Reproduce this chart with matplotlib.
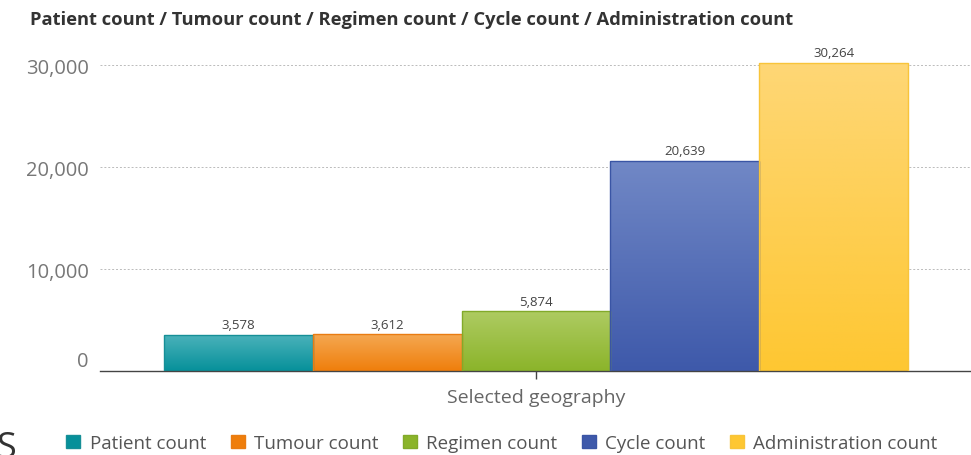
import numpy as np
import matplotlib
matplotlib.use("Agg")
from matplotlib import pyplot as plt
from matplotlib.colors import LinearSegmentedColormap
from matplotlib.patches import Patch

plt.rcParams['font.family'] = ['Open Sans', 'DejaVu Sans']

#! data
series = ['Patient count', 'Tumour count', 'Regimen count', 'Cycle count', 'Administration count']
values = [3578, 3612, 5874, 20639, 30264]
category = 'Selected geography'
yticks = [0, 10000, 20000, 30000]

# top colour, bottom colour, edge colour
top_col = ['#4cb3bb', '#f5a852', '#aecb62', '#7188c6', '#fed776']
bot_col = ['#06909a', '#ef7e0b', '#8bb42a', '#3e59aa', '#fec732']
edge_col = ['#168f97', '#e97c12', '#82aa2a', '#3a55a5', '#f8c43a']

fig = plt.figure(figsize=(9.71, 4.56), dpi=100)
ax = fig.add_axes([100/971, 0.184, 871/971, 0.704])

x = np.arange(len(values))
bars = ax.bar(x, values, width=1.0, color='none', edgecolor=edge_col, linewidth=1.0, zorder=3)

# gradient fill for each bar
for b, c1, c2 in zip(bars, top_col, bot_col):
    cmap = LinearSegmentedColormap.from_list('g', [c2, c1])
    x0, y0 = b.get_x(), b.get_y()
    w, h = b.get_width(), b.get_height()
    grad = np.linspace(0, 1, 256).reshape(-1, 1)
    im = ax.imshow(grad, cmap=cmap, origin='lower', aspect='auto',
                   extent=[x0, x0 + w, y0, y0 + h], zorder=2)
    im.set_clip_path(b)

for xi, v in zip(x, values):
    ax.text(xi, v + 350, f'{v:,}', ha='center', va='bottom', fontsize=9.5, color='#444444')

ax.set_xlim(-0.93, 4.923)
ax.set_ylim(0, 31500)

ax.set_yticks(yticks)
ax.set_yticklabels([f'{t:,}' for t in yticks])
ax.tick_params(axis='y', length=0, pad=8, labelsize=14.5, labelcolor='#777777')
for lbl in ax.get_yticklabels():
    if lbl.get_text() == '0':
        lbl.set_verticalalignment('bottom')

ax.set_xticks([2])
ax.set_xticklabels([category])
ax.tick_params(axis='x', length=6, width=1, color='#444444', pad=6, labelsize=14, labelcolor='#666666')

ax.grid(axis='y', color='#bbbbbb', linestyle=(0, (2, 2)), linewidth=0.7, zorder=0)
for s in ['top', 'right', 'left']:
    ax.spines[s].set_visible(False)
ax.spines['bottom'].set_color('#444444')
ax.spines['bottom'].set_linewidth(1.0)

fig.text(30/971, 1 - 20/456, ' / '.join(series), ha='left', va='center',
         fontsize=13.2, fontweight='bold', color='#333333')

handles = [Patch(facecolor=c, edgecolor=e, linewidth=1.0) for c, e in zip(bot_col, edge_col)]
fig.legend(handles, series, loc='center', bbox_to_anchor=(502/971, 1 - 444/456),
           ncol=5, frameon=False, fontsize=13.5, labelcolor='#555555',
           handlelength=0.75, handleheight=0.75, handletextpad=0.5, columnspacing=1.3)

fig.text(-0.004, -0.025, 'S', ha='left', va='bottom', fontsize=26, color='#333333')

plt.savefig('out.png', dpi=100)
